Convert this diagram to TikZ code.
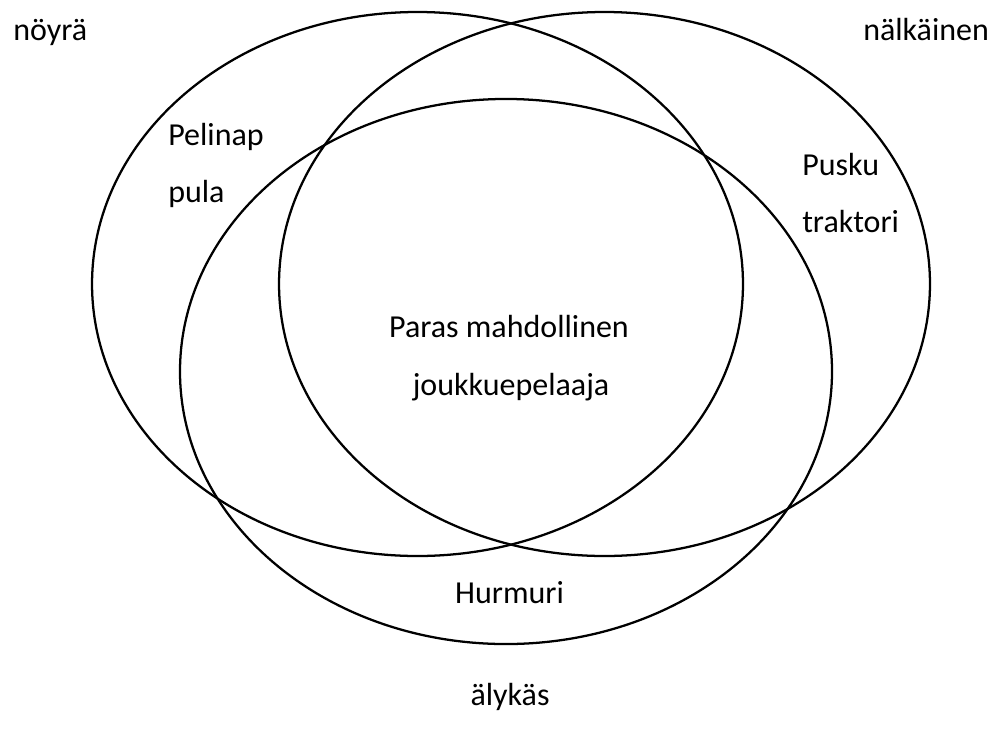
\documentclass[tikz,border=0pt]{standalone}
\usepackage{fontspec}
\setmainfont{Carlito}
\begin{document}
\begin{tikzpicture}[x=0.75pt,y=-0.75pt,
  ring/.style={draw=black,line width=1.7pt},
  lbl/.style={font=\fontsize{24}{28}\selectfont,inner sep=0pt},
  lblw/.style={lbl,anchor=base west},
  lblc/.style={lbl,anchor=base}]
\useasboundingbox (0,0) rectangle (996,740);
% three overlapping sets
\draw[ring] (417.5,284) ellipse [x radius=244.1pt, y radius=204pt];
\draw[ring] (604.5,284) ellipse [x radius=244.1pt, y radius=204pt];
\draw[ring] (506,371.5) ellipse [x radius=244.5pt, y radius=204.4pt];
% set names
\node[lblw] (noyra) at (13,40) {nöyrä};
\node[lblw] (nalkainen) at (863,40) {nälkäinen};
\node[lblc] (alykas) at (510,705) {älykäs};
% region labels
\node[lblw] (pelinap) at (168,145) {Pelinap};
\node[lblw] (pula) at (168,202) {pula};
\node[lblw] (pusku) at (802,175) {Pusku};
\node[lblw] (traktori) at (802,232) {traktori};
\node[lblc] (paras) at (509,337) {Paras mahdollinen};
\node[lblc] (joukkue) at (511,395) {joukkuepelaaja};
\node[lblc] (hurmuri) at (509.5,603) {Hurmuri};
\end{tikzpicture}
\end{document}
